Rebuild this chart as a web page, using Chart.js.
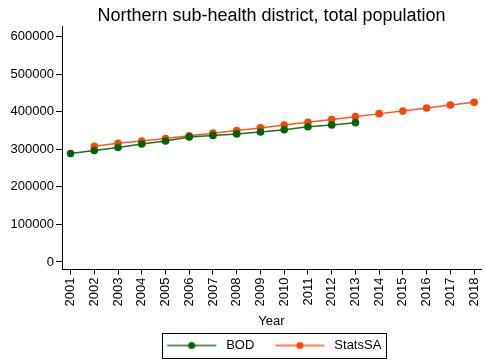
<!DOCTYPE html>
<html>
<head>
<meta charset="utf-8">
<script src="https://cdn.jsdelivr.net/npm/chart.js@4.4.1/dist/chart.umd.min.js"></script>
<style>
  html, body { margin: 0; padding: 0; background: #fff; }
  #wrap { width: 485px; height: 360px; }
</style>
</head>
<body>
<div id="wrap"><canvas id="c" width="485" height="360"></canvas></div>
<script>
// Years on the horizontal axis
const years = [2001, 2002, 2003, 2004, 2005, 2006, 2007, 2008, 2009,
               2010, 2011, 2012, 2013, 2014, 2015, 2016, 2017, 2018];
// Burden-of-disease population estimates (2001-2013)
const bodValues = [289000, 297000, 305000, 314000, 322000, 333000, 337000,
                   341000, 346000, 352000, 360000, 365000, 371000];
// Statistics South Africa mid-year estimates (2002-2018)
const statsSAValues = [null, 308000, 316000, 322000, 328500, 336000, 343000,
                       350000, 357000, 364500, 372000, 379500, 387000,
                       395000, 402000, 410000, 418000, 425000];
// Value-axis tick labels
const yTickValues = [0, 100000, 200000, 300000, 400000, 500000, 600000];

const seriesNames = ['BOD', 'StatsSA'];
const lineColors = ['#1f701f', '#ff5a1f'];
const pointColors = ['#006400', '#ff4500'];

function toPoints(values) {
  const pts = [];
  values.forEach((v, i) => { if (v !== null) pts.push({ x: years[i], y: v }); });
  return pts;
}

// Legend key: short line with a marker in the middle (blank lead-in gives item spacing)
const KEY_LEAD = 15.5;
const KEY_W = Math.round(KEY_LEAD + 52);
const LEGEND_SHIFT_X = -5;
const LEGEND_SHIFT_Y = 2;
function legendKey(lineColor, dotColor) {
  const k = document.createElement('canvas');
  k.width = KEY_W; k.height = 10;
  const g = k.getContext('2d');
  g.strokeStyle = lineColor; g.lineWidth = 1.5;
  g.beginPath(); g.moveTo(KEY_LEAD, 5); g.lineTo(KEY_LEAD + 49, 5); g.stroke();
  g.fillStyle = dotColor;
  g.beginPath(); g.arc(KEY_LEAD + 24.5, 5, 3.6, 0, Math.PI * 2); g.fill();
  return k;
}
const legendKeys = [legendKey(lineColors[0], pointColors[0]), legendKey(lineColors[1], pointColors[1])];

// Nudges the legend row and draws a frame around its items
const legendFrame = {
  id: 'legendFrame',
  afterLayout(chart) {
    const lg = chart.legend;
    if (lg) {
      lg.left += LEGEND_SHIFT_X; lg.right += LEGEND_SHIFT_X;
      lg.top += LEGEND_SHIFT_Y; lg.bottom += LEGEND_SHIFT_Y;
    }
  },
  afterDraw(chart) {
    const lg = chart.legend;
    if (!lg || !lg.legendHitBoxes || !lg.legendHitBoxes.length) return;
    const hb = lg.legendHitBoxes;
    let l = Infinity, r = -Infinity, t = Infinity, b = -Infinity;
    hb.forEach(h => {
      l = Math.min(l, h.left); r = Math.max(r, h.left + h.width);
      t = Math.min(t, h.top); b = Math.max(b, h.top + h.height);
    });
    const ctx = chart.ctx;
    ctx.save();
    ctx.strokeStyle = '#000'; ctx.lineWidth = 1;
    const cy = (t + b) / 2;
    const x0 = Math.round(l + KEY_LEAD - 5);
    const x1 = Math.round(r + 5);
    ctx.strokeRect(x0 + 0.5, Math.round(cy - 12.5) + 0.5, x1 - x0, 25);
    ctx.restore();
  }
};

const FONT = "'Liberation Sans', Arial, Helvetica, sans-serif";

new Chart(document.getElementById('c'), {
  type: 'line',
  data: {
    datasets: [
      {
        label: seriesNames[0],
        data: toPoints(bodValues),
        borderColor: lineColors[0],
        backgroundColor: pointColors[0],
        pointBackgroundColor: pointColors[0],
        pointBorderColor: pointColors[0],
        borderWidth: 1.5,
        pointRadius: 3.8,
        pointBorderWidth: 0,
        tension: 0
      },
      {
        label: seriesNames[1],
        data: toPoints(statsSAValues),
        borderColor: lineColors[1],
        backgroundColor: pointColors[1],
        pointBackgroundColor: pointColors[1],
        pointBorderColor: pointColors[1],
        borderWidth: 1.5,
        pointRadius: 3.8,
        pointBorderWidth: 0,
        tension: 0
      }
    ]
  },
  options: {
    responsive: false,
    animation: false,
    devicePixelRatio: 1,
    layout: { padding: { left: 0, right: 0, top: 0, bottom: 0 } },
    scales: {
      x: {
        type: 'linear',
        min: 2000.64,
        max: 2018.29,
        afterBuildTicks: (s) => { s.ticks = years.map(v => ({ value: v })); },
        afterFit: (s) => { s.height = 62; s.paddingLeft = 0; s.paddingRight = 0; },
        grid: { drawOnChartArea: false, color: '#000', tickLength: 5 },
        border: { display: true, color: '#000', width: 1 },
        ticks: {
          color: '#000',
          font: { family: FONT, size: 13 },
          minRotation: 90,
          maxRotation: 90,
          padding: 3,
          autoSkip: false,
          callback: (v) => String(v)
        },
        title: {
          display: true,
          text: 'Year',
          color: '#000',
          font: { family: FONT, size: 13 },
          padding: { top: 0, bottom: 2 }
        }
      },
      y: {
        min: -20000,
        max: 626700,
        afterBuildTicks: (s) => { s.ticks = yTickValues.map(v => ({ value: v })); },
        afterFit: (s) => { s.width = 62; s.paddingTop = 0; s.paddingBottom = 0; },
        grid: { drawOnChartArea: false, color: '#000', tickLength: 6 },
        border: { display: true, color: '#000', width: 1 },
        ticks: {
          color: '#000',
          font: { family: FONT, size: 13 },
          padding: 2,
          callback: (v) => String(v)
        }
      }
    },
    plugins: {
      title: {
        display: true,
        fullSize: false,
        text: 'Northern sub-health district, total population',
        color: '#000',
        font: { family: FONT, size: 18, weight: 'normal' },
        padding: { top: 5, bottom: 0 }
      },
      legend: {
        display: true,
        position: 'bottom',
        fullSize: false,
        labels: {
          color: '#000',
          font: { family: FONT, size: 13 },
          usePointStyle: true,
          pointStyleWidth: KEY_W,
          boxHeight: 13,
          padding: 5.5,
          generateLabels: (chart) => {
            const items = Chart.defaults.plugins.legend.labels.generateLabels(chart);
            items.forEach((it, i) => { it.pointStyle = legendKeys[i]; });
            return items;
          }
        }
      },
      tooltip: { enabled: false }
    }
  },
  plugins: [legendFrame]
});
</script>
</body>
</html>
